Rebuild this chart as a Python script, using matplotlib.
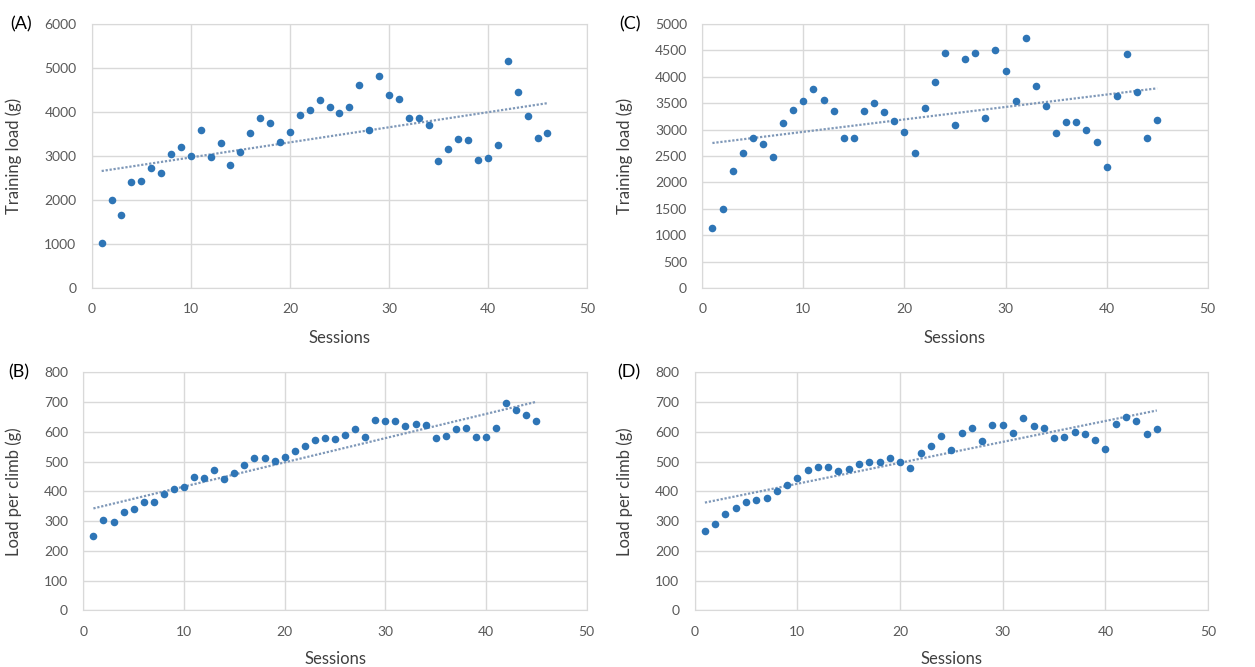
import numpy as np
import matplotlib
matplotlib.use('Agg')
import matplotlib.pyplot as plt

plt.rcParams['font.family'] = ['Lato', 'DejaVu Sans']

# (A) training load, 46 sessions
load_a = [1020, 2000, 1650, 2410, 2430, 2730, 2610, 3050, 3200, 3010,
          3590, 2980, 3290, 2800, 3080, 3520, 3870, 3750, 3310, 3540,
          3940, 4050, 4280, 4120, 3980, 4120, 4610, 3580, 4820, 4380,
          4290, 3870, 3870, 3700, 2890, 3150, 3380, 3360, 2920, 2960,
          3240, 5150, 4450, 3910, 3410, 3520]
# (C) training load, 45 sessions
load_c = [1130, 1500, 2210, 2560, 2840, 2720, 2480, 3120, 3370, 3550,
          3760, 3570, 3350, 2850, 2850, 3360, 3510, 3340, 3170, 2960,
          2550, 3400, 3900, 4460, 3080, 4340, 4460, 3220, 4510, 4110,
          3550, 4730, 3820, 3450, 2930, 3150, 3150, 2990, 2770, 2300,
          3640, 4440, 3710, 2840, 3180]
# (B) load per climb, 45 sessions
climb_b = [250, 304, 298, 332, 342, 363, 365, 391, 407, 415,
           448, 445, 472, 443, 462, 490, 511, 513, 503, 517,
           534, 551, 573, 578, 575, 589, 608, 583, 641, 638,
           638, 620, 626, 623, 579, 585, 610, 613, 582, 584,
           613, 696, 672, 658, 638]
# (D) load per climb, 45 sessions
climb_d = [267, 291, 325, 345, 363, 370, 376, 400, 421, 446,
           473, 483, 483, 469, 476, 493, 500, 500, 511, 500,
           480, 528, 551, 586, 538, 596, 613, 569, 623, 623,
           596, 648, 620, 613, 579, 583, 599, 592, 573, 541,
           627, 651, 638, 592, 610]

panels = [
    ('(A)', load_a, 'Training load (g)', 6000, 1000, [0.0731, 0.5682, 0.3947, 0.3958], -0.141, -0.16),
    ('(C)', load_c, 'Training load (g)', 5000, 500, [0.5596, 0.5682, 0.4027, 0.3958], -0.137, -0.16),
    ('(B)', climb_b, 'Load per climb (g)', 800, 100, [0.0664, 0.0850, 0.4011, 0.3568], -0.122, -0.17),
    ('(D)', climb_d, 'Load per climb (g)', 800, 100, [0.5535, 0.0850, 0.4092, 0.3568], -0.120, -0.17),
]

fig = plt.figure(figsize=(12.55, 6.67), dpi=100)
txt = '#595959'
grid = '#d9d9d9'

for tag, vals, ylab, ymax, ystep, pos, ylx, xly in panels:
    ax = fig.add_axes(pos)
    x = np.arange(1, len(vals) + 1)
    y = np.array(vals, dtype=float)
    ax.scatter(x, y, s=30, color='#2e75b6', zorder=3, linewidths=0)
    # linear trendline like excel
    k, b = np.polyfit(x, y, 1)
    xx = np.array([x[0], x[-1]])
    ax.plot(xx, k * xx + b, ls=(0, (1, 0.8)), color='#7f98b8', lw=1.6, zorder=2)

    ax.set_xlim(0, 50)
    ax.set_ylim(0, ymax)
    ax.set_xticks(range(0, 51, 10))
    ax.set_yticks(range(0, ymax + 1, ystep))
    ax.grid(True, color=grid, lw=1)
    ax.set_axisbelow(True)
    for s in ax.spines.values():
        s.set_color(grid)
    ax.tick_params(length=0, labelsize=10, labelcolor=txt, pad=11)
    ax.set_xlabel('Sessions', fontsize=12, color='#404040')
    ax.set_ylabel(ylab, fontsize=12, color='#404040')
    ax.xaxis.set_label_coords(0.5, xly)
    ax.yaxis.set_label_coords(ylx, 0.5)
    ax.text(-0.165 if tag in ('(A)', '(C)') else -0.15, 1.0, tag, transform=ax.transAxes,
            fontsize=13, color='black', va='center', ha='left')

fig.savefig('out.png', dpi=100)
